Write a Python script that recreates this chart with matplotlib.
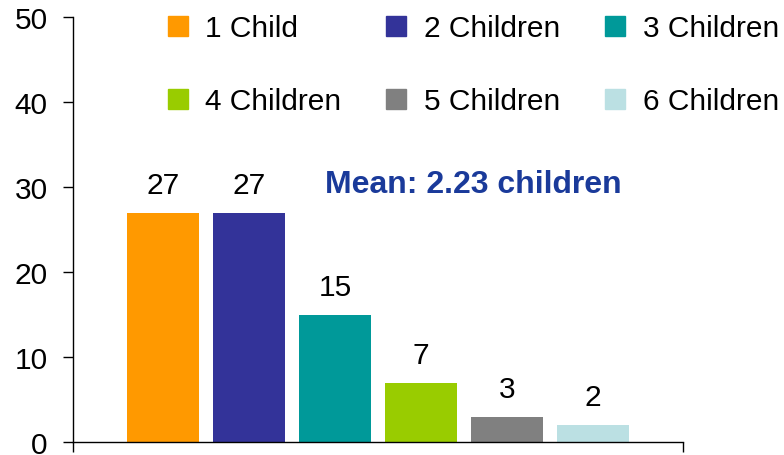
import matplotlib.pyplot as plt
from matplotlib.lines import Line2D

# chart data
labels = ['1 Child', '2 Children', '3 Children', '4 Children', '5 Children', '6 Children']
counts = [27, 27, 15, 7, 3, 2]
colors = ['#FF9900', '#333399', '#009999', '#99CC00', '#808080', '#BBE0E3']
mean_text = 'Mean: 2.23 children'

plt.rcParams['font.family'] = ['Liberation Sans', 'DejaVu Sans']
FS = 21.5

fig = plt.figure(figsize=(7.84, 4.56), dpi=100)
ax = fig.add_axes([73 / 784, 13 / 456, 610 / 784, 425 / 456])

x = list(range(len(counts)))
bars = ax.bar(x, counts, width=0.84, color=colors)

# value labels above the bars
for b, v in zip(bars, counts):
    ax.annotate(str(v), (b.get_x() + b.get_width() / 2, v),
                xytext=(0, 10), textcoords='offset points',
                ha='center', va='bottom', fontsize=FS)

ax.text(3.61, 30.4, mean_text, ha='center', va='center', fontsize=23,
        fontweight='bold', color='#1A3A9A')

ax.set_ylim(0, 50)
ax.set_yticks(range(0, 51, 10))
ax.set_xlim(-1.047, 6.047)
ax.set_xticks([-1.047, 6.047])
ax.set_xticklabels([])

ax.spines['top'].set_visible(False)
ax.spines['right'].set_visible(False)
for s in ('left', 'bottom'):
    ax.spines[s].set_linewidth(1)
ax.tick_params(axis='both', direction='out', length=7.2, width=1, labelsize=FS, pad=11)

# legend laid out row by row
handles = [Line2D([], [], marker='s', linestyle='none', markersize=14.4,
                  markerfacecolor=c, markeredgecolor=c, label=l)
           for c, l in zip(colors, labels)]
order = [0, 3, 1, 4, 2, 5]
fig.legend([handles[i] for i in order], [labels[i] for i in order],
           ncol=3, loc='upper left', bbox_to_anchor=(167.5 / 784, 1 - 15 / 456),
           frameon=False, fontsize=FS, handlelength=0.67, handletextpad=0.6,
           columnspacing=1.5, labelspacing=1.52, borderpad=0, borderaxespad=0)

fig.savefig('out.png', dpi=100)
